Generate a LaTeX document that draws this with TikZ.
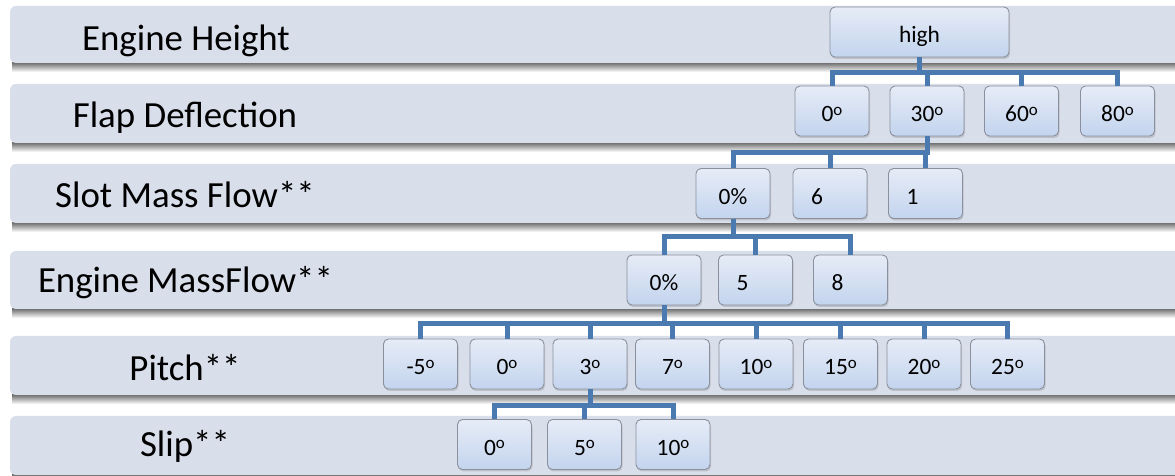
\documentclass[tikz,border=0pt]{standalone}
\usepackage{fontspec}
\setmainfont{Carlito}
\usetikzlibrary{calc,shadows}
\definecolor{bandfill}{HTML}{D9DEEB}
\definecolor{boxtop}{HTML}{E6ECF7}
\definecolor{boxbot}{HTML}{C3D4EE}
\definecolor{boxline}{HTML}{8A919C}
\definecolor{busblue}{HTML}{4A7AB0}
\def\dg{\raisebox{6.5bp}{\fontsize{17}{17}\selectfont o}}
\tikzset{
  bandlabel/.style={font=\fontsize{37}{42}\selectfont, text=black, anchor=base},
  val/.style={draw=boxline, line width=0.9bp, rounded corners=5bp, top color=boxtop, bottom color=boxbot,
    minimum width=74bp, minimum height=50bp, inner sep=0pt, font=\fontsize{23.5}{26}\selectfont,
    text height=22bp, text depth=0pt,
    drop shadow={opacity=0.3, shadow xshift=1bp, shadow yshift=-2bp}},
  padleft/.style={text width=38bp, align=left},
  bus/.style={draw=busblue, line width=5bp}
}
\def\band(#1:#2){
  \shade[top color=black!55, bottom color=white] (12, #2) rectangle (1180, #2+9);
  \fill[bandfill, rounded corners=6bp] (10, #1) rectangle (1190, #2);
}

\begin{document}
\begin{tikzpicture}[x=1bp, y=-1bp]
			%%%%% START %%%%%
			\useasboundingbox (0, 0) rectangle (1175, 476);
			\fill[white] (0, 0) rectangle (1175, 476);
			
			\band(6:63)
			\band(84:143)
			\band(164:223)
			\band(251:309)
			\band(336:395)
			\band(416:475)
			
			\node[bandlabel] (lblHeight) at (186, 51) {Engine Height};
			\node[bandlabel] (lblFlap) at (185, 128) {Flap Deflection};
			\node[bandlabel] (lblSlot) at (185, 208) {Slot Mass Flow**};
			\node[bandlabel] (lblEngine) at (185.5, 293) {Engine MassFlow**};
			\node[bandlabel] (lblPitch) at (185, 381) {Pitch**};
			\node[bandlabel] (lblSlip) at (185, 457) {Slip**};
			
			% engine height
			\node[val, minimum width=179bp] (high) at (919.5, 32) {high};
			
			% flap deflection
			\node[val] (f0) at (832, 111) {0\dg};
			\node[val] (f30) at (927, 111) {30\dg};
			\node[val] (f60) at (1021.5, 111) {60\dg};
			\node[val] (f80) at (1117.5, 111) {80\dg};
			
			% slot mass flow
			\node[val] (s0) at (733, 193.5) {0\%};
			\node[val, padleft] (s6) at (830, 193.5) {6};
			\node[val, padleft] (s1) at (925.5, 193.5) {1};
			
			% engine mass flow
			\node[val] (e0) at (664, 280) {0\%};
			\node[val, padleft] (e5) at (755.5, 280) {5};
			\node[val, padleft] (e8) at (850.5, 280) {8};
			
			% pitch
			\node[val] (p1) at (420.5, 364) {-5\dg};
			\node[val] (p2) at (507, 364) {0\dg};
			\node[val] (p3) at (590, 364) {3\dg};
			\node[val] (p4) at (672.5, 364) {7\dg};
			\node[val] (p5) at (756, 364) {10\dg};
			\node[val] (p6) at (840.5, 364) {15\dg};
			\node[val] (p7) at (924, 364) {20\dg};
			\node[val] (p8) at (1007.5, 364) {25\dg};
			
			% slip
			\node[val] (sl0) at (494.5, 444.5) {0\dg};
			\node[val] (sl5) at (584.5, 444.5) {5\dg};
			\node[val] (sl10) at (673, 444.5) {10\dg};
			
			\foreach \c in {f0, f30, f60, f80}
				\draw[bus] (high.south) -- ++(0, 15) -| (\c.north);
			\foreach \c in {s0, s6, s1}
				\draw[bus] (f30.south) -- ++(0, 16) -| (\c.north);
			\foreach \c in {e0, e5, e8}
				\draw[bus] (s0.south) -- ++(0, 18) -| (\c.north);
			\foreach \c in {p1, p2, p3, p4, p5, p6, p7, p8}
				\draw[bus] (e0.south) -- ++(0, 18) -| (\c.north);
			\foreach \c in {sl0, sl5, sl10}
				\draw[bus] (p3.south) -- ++(0, 16) -| (\c.north);
			
			%%%%% END %%%%%
\end{tikzpicture}
\end{document}
